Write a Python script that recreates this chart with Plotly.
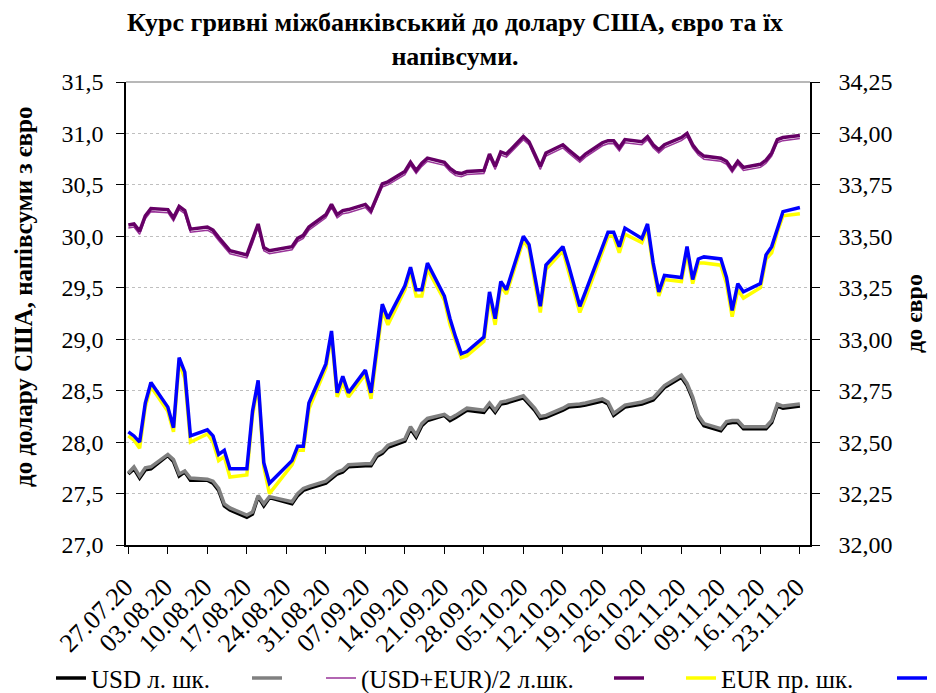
import plotly.graph_objects as go

dates = [
    "2020-07-27", "2020-07-28", "2020-07-29", "2020-07-30", "2020-07-31",
    "2020-08-03", "2020-08-04", "2020-08-05", "2020-08-06", "2020-08-07",
    "2020-08-10", "2020-08-11", "2020-08-12", "2020-08-13", "2020-08-14",
    "2020-08-17", "2020-08-18", "2020-08-19", "2020-08-20", "2020-08-21",
    "2020-08-25", "2020-08-26", "2020-08-27", "2020-08-28",
    "2020-08-31", "2020-09-01", "2020-09-02", "2020-09-03", "2020-09-04",
    "2020-09-07", "2020-09-08", "2020-09-09", "2020-09-10", "2020-09-11",
    "2020-09-14", "2020-09-15", "2020-09-16", "2020-09-17", "2020-09-18",
    "2020-09-21", "2020-09-22", "2020-09-23", "2020-09-24", "2020-09-25",
    "2020-09-28", "2020-09-29", "2020-09-30", "2020-10-01", "2020-10-02",
    "2020-10-05", "2020-10-06", "2020-10-07", "2020-10-08", "2020-10-09",
    "2020-10-12", "2020-10-13", "2020-10-15", "2020-10-16",
    "2020-10-19", "2020-10-20", "2020-10-21", "2020-10-22", "2020-10-23",
    "2020-10-26", "2020-10-27", "2020-10-28", "2020-10-29", "2020-10-30",
    "2020-11-02", "2020-11-03", "2020-11-04", "2020-11-05", "2020-11-06",
    "2020-11-09", "2020-11-10", "2020-11-11", "2020-11-12", "2020-11-13",
    "2020-11-16", "2020-11-17", "2020-11-18", "2020-11-19", "2020-11-20",
    "2020-11-23",
]

# USD, left axis
usd_buy = [
    27.69, 27.74, 27.65, 27.73, 27.74,
    27.87, 27.81, 27.67, 27.71, 27.63,
    27.63, 27.60, 27.53, 27.38, 27.34,
    27.27, 27.30, 27.47, 27.38, 27.46,
    27.40, 27.48, 27.53, 27.55,
    27.60, 27.65, 27.69, 27.71, 27.76,
    27.77, 27.77, 27.86, 27.89, 27.95,
    28.01, 28.13, 28.05, 28.16, 28.21,
    28.26, 28.21, 28.24, 28.28, 28.31,
    28.29, 28.36, 28.29, 28.37, 28.38,
    28.43, 28.37, 28.31, 28.23, 28.24,
    28.31, 28.34, 28.35, 28.36,
    28.40, 28.37, 28.26, 28.30, 28.34,
    28.37, 28.39, 28.41, 28.47, 28.53,
    28.63, 28.55, 28.42, 28.24, 28.16,
    28.11, 28.18, 28.19, 28.19, 28.13,
    28.13, 28.13, 28.19, 28.35, 28.33,
    28.35,
]
usd_sell = [
    27.70, 27.76, 27.67, 27.75, 27.76,
    27.88, 27.83, 27.69, 27.72, 27.65,
    27.64, 27.62, 27.55, 27.40, 27.36,
    27.29, 27.32, 27.48, 27.40, 27.47,
    27.42, 27.50, 27.55, 27.57,
    27.62, 27.67, 27.71, 27.73, 27.78,
    27.79, 27.79, 27.88, 27.91, 27.97,
    28.03, 28.15, 28.07, 28.18, 28.23,
    28.27, 28.23, 28.26, 28.30, 28.33,
    28.31, 28.38, 28.31, 28.39, 28.40,
    28.45, 28.39, 28.33, 28.25, 28.26,
    28.33, 28.36, 28.37, 28.38,
    28.42, 28.39, 28.28, 28.32, 28.36,
    28.39, 28.41, 28.43, 28.49, 28.55,
    28.65, 28.57, 28.44, 28.26, 28.18,
    28.13, 28.20, 28.21, 28.21, 28.15,
    28.15, 28.15, 28.21, 28.37, 28.35,
    28.37,
]

# (USD+EUR)/2, left axis
mid_buy = [
    30.08, 30.09, 30.02, 30.17, 30.24,
    30.23, 30.15, 30.26, 30.22, 30.04,
    30.06, 30.03, 29.96, 29.89, 29.83,
    29.79, 29.93, 30.09, 29.86, 29.83,
    29.87, 29.95, 29.98, 30.06,
    30.18, 30.28, 30.18, 30.22, 30.23,
    30.28, 30.22, 30.35, 30.48, 30.50,
    30.60, 30.69, 30.61, 30.68, 30.73,
    30.69, 30.63, 30.59, 30.58, 30.60,
    30.61, 30.77, 30.65, 30.79, 30.77,
    30.94, 30.89, 30.77, 30.65, 30.78,
    30.86, 30.81, 30.72, 30.77,
    30.88, 30.90, 30.90, 30.83, 30.91,
    30.89, 30.94, 30.86, 30.81, 30.86,
    30.93, 30.97, 30.86, 30.79, 30.75,
    30.73, 30.70, 30.62, 30.70, 30.64,
    30.67, 30.71, 30.78, 30.91, 30.93,
    30.95,
]
mid_sell = [
    30.11, 30.12, 30.05, 30.20, 30.27,
    30.26, 30.18, 30.29, 30.25, 30.07,
    30.09, 30.06, 29.99, 29.92, 29.86,
    29.82, 29.96, 30.12, 29.89, 29.86,
    29.90, 29.98, 30.01, 30.09,
    30.21, 30.31, 30.21, 30.25, 30.26,
    30.31, 30.25, 30.38, 30.51, 30.53,
    30.63, 30.72, 30.64, 30.71, 30.76,
    30.72, 30.66, 30.62, 30.61, 30.63,
    30.64, 30.80, 30.68, 30.82, 30.80,
    30.97, 30.92, 30.80, 30.68, 30.81,
    30.89, 30.84, 30.75, 30.80,
    30.91, 30.93, 30.93, 30.86, 30.94,
    30.92, 30.97, 30.89, 30.84, 30.89,
    30.96, 31.00, 30.89, 30.82, 30.78,
    30.76, 30.73, 30.65, 30.73, 30.67,
    30.70, 30.74, 30.81, 30.94, 30.96,
    30.98,
]

# EUR, right axis
eur_buy = [
    32.53, 32.51, 32.47, 32.67, 32.77,
    32.65, 32.55, 32.89, 32.81, 32.50,
    32.54, 32.50, 32.41, 32.43, 32.33,
    32.34, 32.63, 32.78, 32.38, 32.25,
    32.39, 32.46, 32.46, 32.66,
    32.86, 33.02, 32.72, 32.79, 32.72,
    32.83, 32.71, 32.93, 33.14, 33.07,
    33.24, 33.33, 33.21, 33.21, 33.34,
    33.19, 33.07, 32.99, 32.91, 32.92,
    32.99, 33.20, 33.07, 33.26, 33.22,
    33.48, 33.44, 33.28, 33.13, 33.34,
    33.43, 33.33, 33.13, 33.20,
    33.42, 33.50, 33.50, 33.42, 33.51,
    33.47, 33.54, 33.35, 33.21, 33.29,
    33.28, 33.42, 33.27, 33.37, 33.37,
    33.36, 33.27, 33.11, 33.24, 33.20,
    33.25, 33.39, 33.42, 33.52, 33.60,
    33.61,
]
eur_sell = [
    32.55, 32.53, 32.50, 32.69, 32.79,
    32.67, 32.57, 32.91, 32.84, 32.53,
    32.56, 32.53, 32.44, 32.46, 32.37,
    32.37, 32.65, 32.80, 32.40, 32.30,
    32.41, 32.48, 32.48, 32.69,
    32.88, 33.04, 32.74, 32.82, 32.74,
    32.85, 32.74, 32.95, 33.17, 33.10,
    33.26, 33.35, 33.24, 33.24, 33.37,
    33.21, 33.10, 33.01, 32.93, 32.94,
    33.01, 33.23, 33.10, 33.28, 33.24,
    33.50, 33.46, 33.31, 33.16, 33.36,
    33.45, 33.36, 33.16, 33.23,
    33.44, 33.52, 33.52, 33.45, 33.54,
    33.49, 33.56, 33.37, 33.23, 33.31,
    33.30, 33.45, 33.29, 33.39, 33.40,
    33.39, 33.30, 33.14, 33.27, 33.23,
    33.27, 33.41, 33.45, 33.54, 33.62,
    33.64,
]

tick_dates = [
    "2020-07-27", "2020-08-03", "2020-08-10", "2020-08-17", "2020-08-24",
    "2020-08-31", "2020-09-07", "2020-09-14", "2020-09-21", "2020-09-28",
    "2020-10-05", "2020-10-12", "2020-10-19", "2020-10-26", "2020-11-02",
    "2020-11-09", "2020-11-16", "2020-11-23",
]
tick_text = [
    "27.07.20", "03.08.20", "10.08.20", "17.08.20", "24.08.20",
    "31.08.20", "07.09.20", "14.09.20", "21.09.20", "28.09.20",
    "05.10.20", "12.10.20", "19.10.20", "26.10.20", "02.11.20",
    "09.11.20", "16.11.20", "23.11.20",
]

FONT = "Liberation Serif"

# the page puts the figure 8 px in from the top-left corner
W, H = 928, 685

fig = go.Figure()
fig.add_trace(go.Scatter(x=dates, y=usd_buy, name="USD л. шк.", mode="lines",
                         line=dict(color="#000000", width=3.5),
                         legend="legend", legendwidth=151))
fig.add_trace(go.Scatter(x=dates, y=usd_sell, name=" ", mode="lines",
                         line=dict(color="#808080", width=3.5),
                         legend="legend", legendwidth=5))
fig.add_trace(go.Scatter(x=dates, y=mid_buy, name="(USD+EUR)/2 л.шк.", mode="lines",
                         line=dict(color="#993399", width=1.5),
                         legend="legend2", legendwidth=243))
fig.add_trace(go.Scatter(x=dates, y=mid_sell, name=" ", mode="lines",
                         line=dict(color="#660066", width=3.5),
                         legend="legend2", legendwidth=5))
fig.add_trace(go.Scatter(x=dates, y=eur_buy, name="EUR пр. шк.", mode="lines",
                         line=dict(color="#FFFF00", width=3.5), yaxis="y2",
                         legend="legend3", legendwidth=166))
fig.add_trace(go.Scatter(x=dates, y=eur_sell, name=" ", mode="lines",
                         line=dict(color="#0000FF", width=3.5), yaxis="y2",
                         legend="legend3", legendwidth=5))

legend_style = dict(orientation="h", xanchor="left", y=-0.288, yanchor="middle",
                    font=dict(family=FONT, size=25), bgcolor="rgba(0,0,0,0)")

fig.update_layout(
    width=W, height=H,
    margin=dict(l=118, r=126, t=74, b=148, autoexpand=False),
    paper_bgcolor="white", plot_bgcolor="white",
    separators=", ",
    font=dict(family=FONT, size=24, color="black"),
    title=dict(text="<b>Курс гривні міжбанківський до долару США, євро та їх<br>напівсуми.</b>",
               x=447 / W, xanchor="center", y=0.966, yanchor="top",
               font=dict(family=FONT, size=26)),
    xaxis=dict(type="date", range=["2020-07-26 14:00", "2020-11-24 19:00"],
               tickmode="array", tickvals=tick_dates, ticktext=tick_text,
               tickangle=-45, ticks="outside", ticklen=7, tickcolor="black",
               showline=True, linecolor="black", linewidth=1.5,
               showgrid=False, zeroline=False, tickfont=dict(size=26),
               ticklabelstandoff=8, ticklabelshift=-3, automargin=False),
    yaxis=dict(range=[27.0, 31.5], dtick=0.5, tickformat=".1f",
               ticks="outside", ticklen=8, tickcolor="black",
               showline=True, linecolor="black", linewidth=1.5,
               showgrid=True, gridcolor="#BFBFBF", griddash="dot", gridwidth=1,
               zeroline=False, tickfont=dict(size=24), ticklabelstandoff=8,
               automargin=False),
    yaxis2=dict(range=[32.0, 34.25], dtick=0.25, tickformat=".2f",
                overlaying="y", side="right",
                ticks="outside", ticklen=8, tickcolor="black",
                showline=True, linecolor="black", linewidth=1.5,
                showgrid=False, zeroline=False, tickfont=dict(size=24),
                ticklabelstandoff=14, automargin=False,
                title=dict(text="<b>до євро</b>", font=dict(size=24), standoff=14)),
    legend=dict(x=(51 - 126) / 684, **legend_style),
    legend2=dict(x=(321 - 126) / 684, **legend_style),
    legend3=dict(x=(681 - 126) / 684, **legend_style),
    showlegend=True,
)

# left axis title, placed by hand as in the original
fig.add_annotation(text="<b>до долару США, напівсуми з євро</b>", textangle=-90,
                   xref="paper", yref="paper", x=(23 - 126) / 684, y=(545 - 297) / 463,
                   xanchor="center", yanchor="middle", showarrow=False,
                   font=dict(family=FONT, size=25))

# grey top border of the plot area
fig.add_shape(type="line", xref="paper", yref="paper", x0=0, x1=1, y0=1, y1=1,
              line=dict(color="#A0A0A0", width=1.5))

fig.write_html("out.html")
